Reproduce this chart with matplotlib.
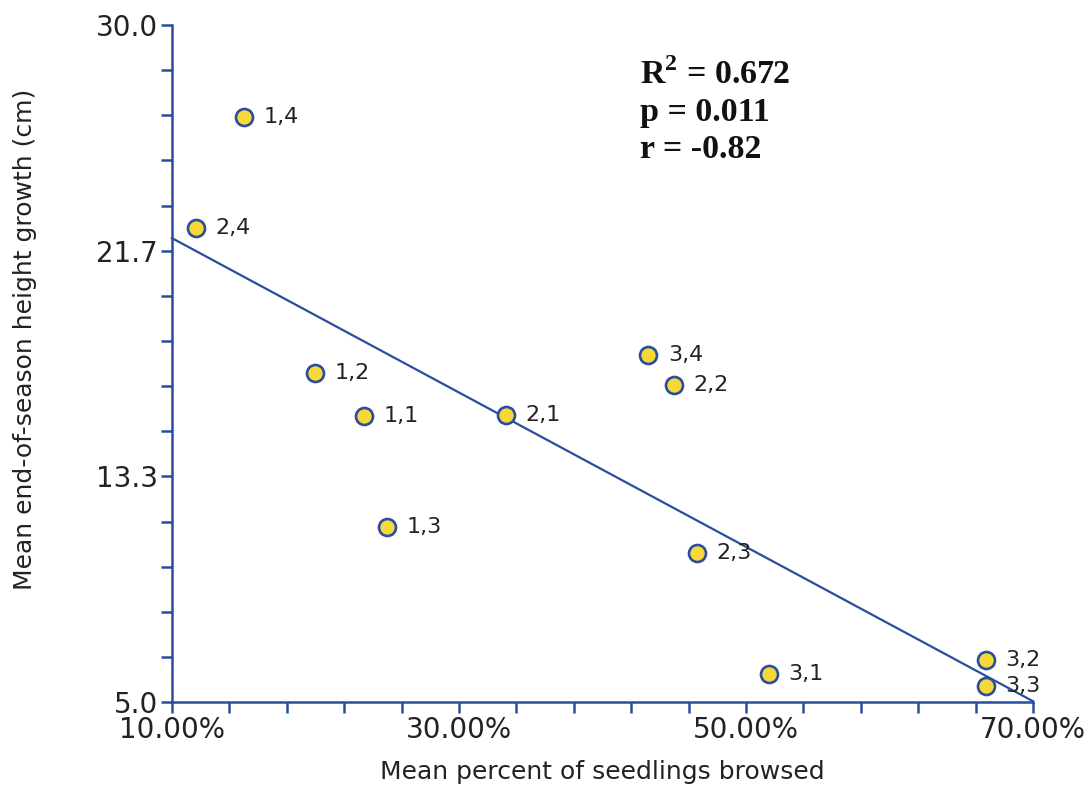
import numpy as np
import matplotlib.pyplot as plt
from matplotlib.ticker import FixedLocator, FuncFormatter

# datos (porcentaje ramoneado, crecimiento en cm)
etiquetas = ["1,4", "2,4", "1,2", "1,1", "2,1", "1,3",
             "3,4", "2,2", "2,3", "3,1", "3,2", "3,3"]
pct_ramoneo = [15.0, 11.7, 20.0, 23.4, 33.3, 25.0,
               43.2, 45.0, 46.6, 51.6, 66.7, 66.7]
crecimiento = [26.6, 22.5, 17.15, 15.55, 15.6, 11.45,
               17.8, 16.7, 10.5, 6.05, 6.55, 5.6]
ticks_x = [10, 30, 50, 70]

azul = "#2a4d9f"
amarillo = "#f6d838"

plt.rcParams['mathtext.fontset'] = 'custom'
plt.rcParams['mathtext.bf'] = 'Liberation Serif:bold'
plt.rcParams['mathtext.rm'] = 'Liberation Serif:bold'

fig = plt.figure(figsize=(10.88, 7.88), dpi=100)
ax = fig.add_axes([0.158, 0.109, 0.7914, 0.8593])

# recta de regresion
pend, orden = np.polyfit(pct_ramoneo, crecimiento, 1)
xr = np.array([10, 70])
ax.plot(xr, pend * xr + orden, color=azul, lw=1.6, zorder=2, clip_on=False)

ax.scatter(pct_ramoneo, crecimiento, s=150, color=amarillo,
           edgecolors=azul, linewidths=1.9, zorder=3, clip_on=False)
for et, x, y in zip(etiquetas, pct_ramoneo, crecimiento):
    ax.annotate(et, (x, y), xytext=(14, 0), textcoords="offset points",
                va="center", ha="left", fontsize=16, color="#222222")

ax.set_xlim(10, 70)
ax.set_ylim(5, 30)

# ejes
for s in ["top", "right"]:
    ax.spines[s].set_visible(False)
for s in ["left", "bottom"]:
    ax.spines[s].set_color(azul)
    ax.spines[s].set_linewidth(1.8)

ax.xaxis.set_major_locator(FixedLocator(ticks_x))
ax.xaxis.set_minor_locator(FixedLocator(np.arange(10, 71, 4)))
ax.xaxis.set_major_formatter(FuncFormatter(lambda v, p: f"{v:.2f}%"))
ax.yaxis.set_major_locator(FixedLocator(np.linspace(5, 30, 4)))
ax.yaxis.set_minor_locator(FixedLocator(np.linspace(5, 30, 16)))
ax.yaxis.set_major_formatter(FuncFormatter(lambda v, p: f"{v:.1f}"))
ax.tick_params(which="both", color=azul, width=1.8, length=8,
               direction="out")
ax.tick_params(axis="both", which="major", labelsize=20, labelcolor="#222222",
               pad=2)

ax.set_xlabel("Mean percent of seedlings browsed", fontsize=18,
              color="#222222")
ax.set_ylabel("Mean end-of-season height growth (cm)", fontsize=18,
              color="#222222")
ax.xaxis.set_label_coords(0.5, -0.085)
ax.yaxis.set_label_coords(-0.157, 0.535)

# estadisticos
estad = [r"R$^{\mathbf{2}}$ = 0.672", "p = 0.011", "r = -0.82"]
for i, t in enumerate(estad):
    fig.text(640 / 1088, 1 - (84 + 37 * i) / 788, t, fontsize=24.5,
             fontweight="bold", family="Liberation Serif", color="#111111",
             va="baseline")

fig.savefig("out.png", dpi=100)
